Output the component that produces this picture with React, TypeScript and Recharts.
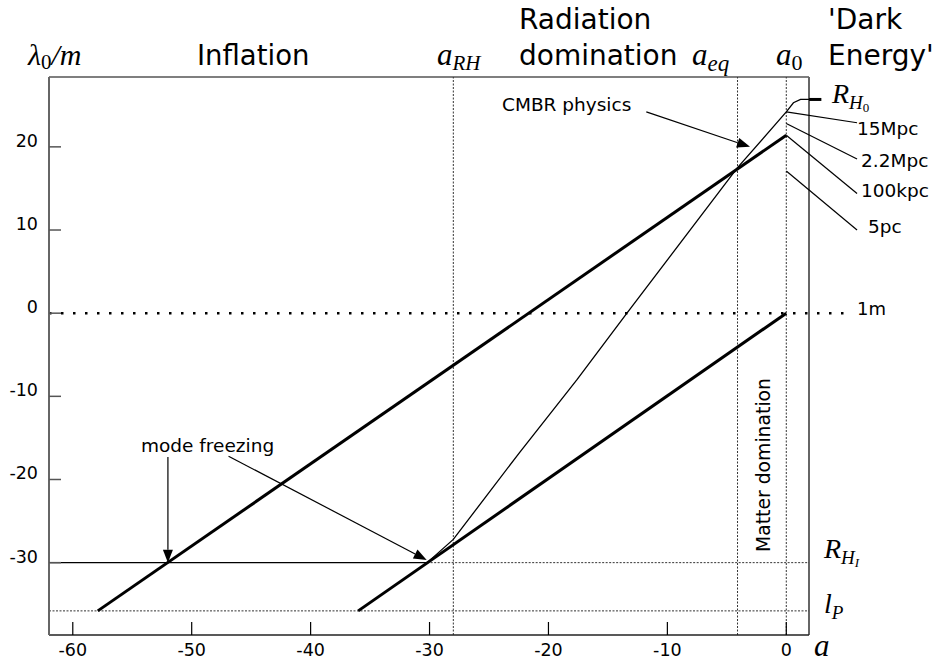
import { LineChart, Line, XAxis, YAxis, ReferenceLine } from "recharts";

// log10(a) ticks and log10(λ0 / m) ticks
const X_TICKS = [-60, -50, -40, -30, -20, -10, 0];
const Y_TICKS = [20, 10, 0, -10, -20, -30];

// epochs, log10 a
const A_RH = -28;
const A_EQ = -4.1;
const A_0 = 0;

// reference lengths, log10 metres
const R_HI = -30;
const L_P = -35.8;
const ONE_METRE = 0;
const R_H0 = 25.7;

// two comoving scales, λ ∝ a
const scaleLarge = [
  { x: -57.9, y: -35.8 },
  { x: 0, y: 21.4 },
];
const scaleSmall = [
  { x: -36, y: -35.8 },
  { x: 0, y: 0 },
];

// Hubble radius: flat during inflation, ∝ a² then ∝ a^1.5, flat again today
const hubbleRadius = [
  { x: -62, y: -30 },
  { x: -30.2, y: -30 },
  { x: -28, y: -27.2 },
  { x: -22.4, y: -16.7 },
  { x: -17.6, y: -8 },
  { x: -13.4, y: 0 },
  { x: -4.1, y: 17.5 },
  { x: 0, y: 24.2 },
  { x: 0.6, y: 25.3 },
  { x: 1.2, y: 25.7 },
  { x: 1.91, y: 25.7 },
];

// present-day scales marked on the a0 line, with the label end of each leader
const scaleMarks = [
  { label: "15Mpc", y: 24.2, labelY: 22.9 },
  { label: "2.2Mpc", y: 22.8, labelY: 18.55 },
  { label: "100kpc", y: 21.4, labelY: 14.4 },
  { label: "5pc", y: 17.1, labelY: 10.0 },
];

const X_DOMAIN: [number, number] = [-62, 1.91];
const Y_DOMAIN: [number, number] = [-38.7, 28.4];
const LABEL_X = 5.95;

const SANS = "'DejaVu Sans', sans-serif";
const SERIF = "'Liberation Serif', serif";
const DOTS = "2 1.5";

function XTick({ x, y, payload }: any) {
  return (
    <g>
      <line x1={x} y1={y} x2={x} y2={y - 13} stroke="#000" strokeWidth={1.2} />
      <text x={x} y={y + 21} textAnchor="middle" fontFamily={SANS} fontSize={17.5} fill="#000">
        {payload.value}
      </text>
    </g>
  );
}

function YTick({ x, y, payload }: any) {
  return (
    <g>
      <line x1={x} y1={y} x2={x + 12} y2={y} stroke="#555" strokeWidth={1.5} />
      <text x={x - 11} y={y} textAnchor="end" fontFamily={SANS} fontSize={17.5} fill="#000">
        {payload.value}
      </text>
    </g>
  );
}

// line with a filled head at (x2, y2)
function Arrow({ x1, y1, x2, y2 }: any) {
  const ang = Math.atan2(y2 - y1, x2 - x1);
  const len = 13;
  const half = 5;
  const bx = x2 - len * Math.cos(ang);
  const by = y2 - len * Math.sin(ang);
  const px = half * Math.sin(ang);
  const py = half * Math.cos(ang);
  return (
    <g>
      <line x1={x1} y1={y1} x2={bx} y2={by} stroke="#000" strokeWidth={1.2} />
      <polygon points={`${x2},${y2} ${bx + px},${by - py} ${bx - px},${by + py}`} fill="#000" />
    </g>
  );
}

function Labels() {
  return (
    <svg
      width={935}
      height={666}
      style={{ position: "absolute", left: 0, top: 0, pointerEvents: "none" }}
    >
      <g fontFamily={SERIF} fontStyle="italic" fill="#000">
        <text x={28} y={65} fontSize={30}>
          λ<tspan fontSize={21} dy={4} fontStyle="normal">0</tspan>
          <tspan dy={-4}>/m</tspan>
        </text>
        <text x={437} y={65} fontSize={31}>
          a<tspan fontSize={21} dy={5}>RH</tspan>
        </text>
        <text x={692} y={65} fontSize={31}>
          a<tspan fontSize={23} dy={6}>eq</tspan>
        </text>
        <text x={776} y={65} fontSize={31}>
          a<tspan fontSize={22} dy={5} fontStyle="normal">0</tspan>
        </text>
        <text x={832} y={103} fontSize={28}>
          R<tspan fontSize={19} dy={6}>H</tspan>
          <tspan fontSize={13} dy={3} fontStyle="normal">0</tspan>
        </text>
        <text x={824} y={558} fontSize={28}>
          R<tspan fontSize={19} dy={6}>H</tspan>
          <tspan fontSize={13} dy={3}>I</tspan>
        </text>
        <text x={824} y={613} fontSize={28}>
          l<tspan fontSize={19} dy={6}>P</tspan>
        </text>
        <text x={814} y={656} fontSize={31}>
          a
        </text>
      </g>
      <g fontFamily={SANS} fill="#000">
        <text x={197} y={65} fontSize={27.5}>Inflation</text>
        <text x={519} y={29} fontSize={28}>Radiation</text>
        <text x={519} y={65} fontSize={28}>domination</text>
        <text x={828} y={29} fontSize={28}>'Dark</text>
        <text x={828} y={65} fontSize={28}>Energy'</text>
        <text x={502} y={111} fontSize={18.5}>CMBR physics</text>
        <text x={141} y={452} fontSize={18.5}>mode freezing</text>
        <text transform="translate(770,465) rotate(-90)" textAnchor="middle" fontSize={18.8}>
          Matter domination
        </text>
        <text x={857} y={315} fontSize={18}>1m</text>
        <text x={857} y={135} fontSize={18.5}>15Mpc</text>
        <text x={861} y={167} fontSize={18.5}>2.2Mpc</text>
        <text x={861} y={197} fontSize={18.5}>100kpc</text>
        <text x={868} y={233} fontSize={18.5}>5pc</text>
      </g>
    </svg>
  );
}

export default function App() {
  return (
    <div style={{ position: "absolute", left: 0, top: 0, width: 935, height: 666, background: "#fff" }}>
      <LineChart width={935} height={666} margin={{ top: 77, right: 126, bottom: 0, left: 0 }}>
        <XAxis
          type="number"
          dataKey="x"
          domain={X_DOMAIN}
          allowDataOverflow
          ticks={X_TICKS}
          height={31}
          tickSize={0}
          tickMargin={0}
          tick={<XTick />}
          axisLine={{ stroke: "#222", strokeWidth: 1.5 }}
        />
        <YAxis
          type="number"
          dataKey="y"
          domain={Y_DOMAIN}
          allowDataOverflow
          ticks={Y_TICKS}
          width={49}
          tickSize={0}
          tickMargin={0}
          tick={<YTick />}
          axisLine={{ stroke: "#666", strokeWidth: 2 }}
        />

        {/* frame */}
        <ReferenceLine y={Y_DOMAIN[1]} stroke="#000" strokeWidth={1.2} />
        <ReferenceLine x={X_DOMAIN[1]} stroke="#666" strokeWidth={2} />

        {/* epochs */}
        <ReferenceLine x={A_RH} stroke="#333" strokeDasharray={DOTS} />
        <ReferenceLine x={A_EQ} stroke="#333" strokeDasharray={DOTS} />
        <ReferenceLine x={A_0} stroke="#333" strokeDasharray={DOTS} />

        {/* reference lengths */}
        <ReferenceLine
          segment={[{ x: -30.2, y: R_HI }, { x: X_DOMAIN[1], y: R_HI }]}
          stroke="#333"
          strokeDasharray={DOTS}
        />
        <ReferenceLine
          segment={[{ x: X_DOMAIN[0], y: L_P }, { x: X_DOMAIN[1], y: L_P }]}
          stroke="#333"
          strokeDasharray={DOTS}
        />
        <ReferenceLine
          segment={[{ x: X_DOMAIN[0], y: ONE_METRE }, { x: 5.1, y: ONE_METRE }]}
          ifOverflow="visible"
          stroke="#000"
          strokeWidth={2.5}
          strokeDasharray="2.5 9.5"
        />
        <ReferenceLine
          segment={[{ x: X_DOMAIN[1], y: R_H0 }, { x: 2.95, y: R_H0 }]}
          ifOverflow="visible"
          stroke="#000"
          strokeWidth={3}
        />

        {/* leaders from today's scales */}
        {scaleMarks.map((m) => (
          <ReferenceLine
            key={m.label}
            segment={[{ x: A_0, y: m.y }, { x: LABEL_X, y: m.labelY }]}
            ifOverflow="visible"
            stroke="#000"
            strokeWidth={1.2}
          />
        ))}

        <Line data={hubbleRadius} dataKey="y" stroke="#000" strokeWidth={1.3} dot={false} isAnimationActive={false} />
        <Line data={scaleLarge} dataKey="y" stroke="#000" strokeWidth={3} dot={false} isAnimationActive={false} />
        <Line data={scaleSmall} dataKey="y" stroke="#000" strokeWidth={3} dot={false} isAnimationActive={false} />

        {/* annotation arrows */}
        <ReferenceLine segment={[{ x: -11.77, y: 24.2 }, { x: -3.05, y: 20.0 }]} shape={Arrow} />
        <ReferenceLine segment={[{ x: -52, y: -17.3 }, { x: -52, y: -30 }]} shape={Arrow} />
        <ReferenceLine segment={[{ x: -46.9, y: -17.2 }, { x: -30.24, y: -29.68 }]} shape={Arrow} />
      </LineChart>
      <Labels />
    </div>
  );
}
